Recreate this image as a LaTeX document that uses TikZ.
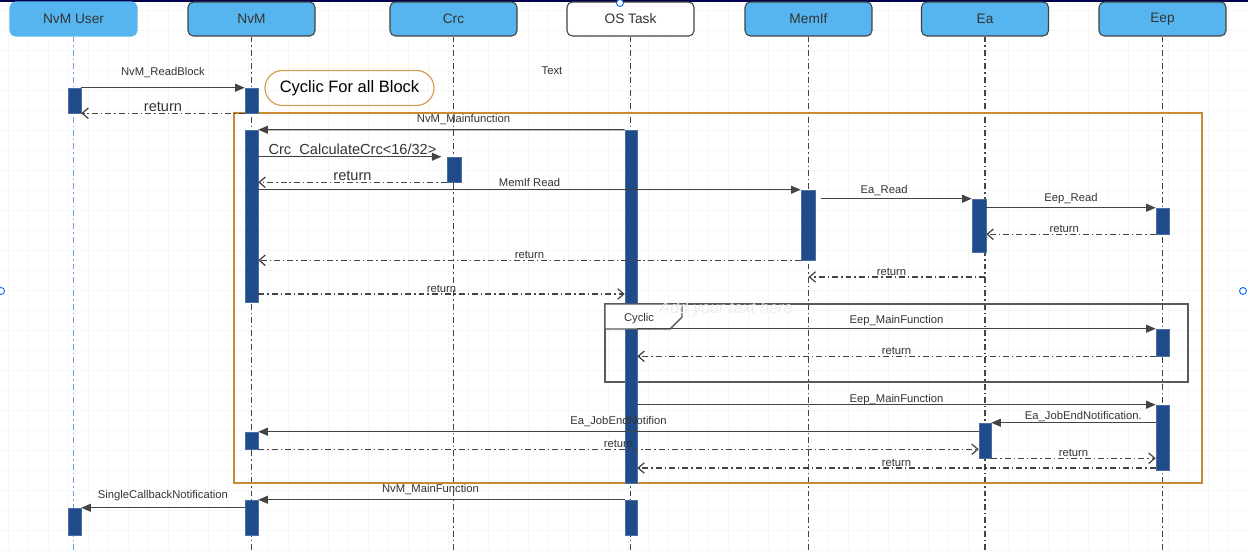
\documentclass[tikz,border=0pt]{standalone}
\usepackage{fontspec}
\setmainfont{Liberation Sans}
\usetikzlibrary{arrows.meta,fit}
\definecolor{hdrblue}{HTML}{56B5EF}
\definecolor{barblue}{HTML}{1F4B8A}
\definecolor{frameorange}{HTML}{C98A35}
\definecolor{boxorange}{HTML}{D99E55}
\definecolor{linegray}{HTML}{444444}
\definecolor{userblue}{HTML}{6E9FE0}
\definecolor{gridgray}{HTML}{F6F6F6}

\begin{document}
\begin{tikzpicture}[x=0.02cm,y=-0.02cm,
  hdr/.style={draw=black!75,line width=0.6pt,fill=hdrblue,rounded corners=3pt,minimum width=2.54cm,minimum height=0.68cm,text=black!80,font=\fontsize{7.8}{9}\selectfont},
  bar/.style={fill=barblue,draw=barblue!80,line width=0.3pt,inner sep=0pt},
  life/.style={linegray,line width=0.8pt,dash pattern=on 3.4pt off 1.7pt on 0.8pt off 1.7pt},
  call/.style={draw=linegray,line width=0.8pt,-{Triangle[length=5.5pt,width=4.5pt]}},
  ret/.style={draw=linegray,line width=0.7pt,dash pattern=on 3.4pt off 1.7pt on 0.8pt off 1.7pt,-{Straight Barb[length=3.5pt,width=6pt]}},
  lbl/.style={text=black!80,font=\fontsize{6.4}{7}\selectfont,inner sep=1pt,text depth=0pt},
  bigtxt/.style={font=\fontsize{8.3}{9}\selectfont},
  handle/.style={circle,draw=blue!60!cyan,fill=white,line width=0.5pt,minimum size=0.14cm,inner sep=0pt}]
\useasboundingbox (0,0) rectangle (1248,551);
\foreach \gx in {8,28,...,1248} \draw[gridgray,line width=0.3pt] (\gx,0) -- (\gx,551);
\foreach \gy in {10,30,...,550} \draw[gridgray,line width=0.3pt] (0,\gy) -- (1248,\gy);
\draw[black!70!blue,line width=1.2pt] (0,0.5) -- (1248,0.5);

\node[hdr,draw=hdrblue] (user) at (73.5,19) {NvM User};
\node[hdr] (nvm) at (251.5,19) {NvM};
\node[hdr] (crc) at (453.5,19) {Crc};
\node[hdr,fill=white] (os) at (630.5,19) {OS Task};
\node[hdr] (mem) at (808.5,19) {MemIf};
\node[hdr] (ea) at (985,19) {Ea};
\node[hdr] (eep) at (1162.5,19) {Eep};

\draw[life,userblue] (user.south) -- (user.south |- 0,551);
\foreach \n in {nvm,crc,os,mem,ea,eep} \draw[life] (\n.south) -- (\n.south |- 0,551);

\node[handle] (h1) at (620,3) {};
\node[handle] (h2) at (1,291) {};
\node[handle] (h3) at (1243,291) {};

\node[lbl] (txt) at (552,71) {Text};
\node[draw=boxorange,line width=0.7pt,rounded corners=0.35cm,minimum width=3.38cm,minimum height=0.7cm,inner sep=0pt,font=\fontsize{9.4}{11}\selectfont] (loop) at (349.5,88) {Cyclic For all Block};
\draw[frameorange,line width=0.7pt] (234,113) rectangle (1202,483);

\draw[black!65,line width=0.8pt] (605,304) rectangle (1188,382);

\node[bar,fit={(68,88) (81,113)}] (userA) {};
\node[bar,fit={(245,88) (258,113)}] (nvmA) {};
\node[bar,fit={(245,130) (258,302)}] (nvmB) {};
\node[bar,fit={(447,157) (461,182)}] (crcA) {};
\node[bar,fit={(625,130) (637,483)}] (osA) {};
\node[bar,fit={(801,190) (815,260)}] (memA) {};
\node[bar,fit={(972,199) (986,252)}] (eaA) {};
\node[bar,fit={(1156,208) (1169,234)}] (eepA) {};
\node[bar,fit={(1156,329) (1169,356)}] (eepB) {};
\node[bar,fit={(1156,405) (1169,470)}] (eepC) {};
\node[bar,fit={(979,423) (991,458)}] (eaB) {};
\node[bar,fit={(245,432) (258,449)}] (nvmC) {};
\node[bar,fit={(625,500) (637,535)}] (osB) {};
\node[bar,fit={(245,500) (258,535)}] (nvmD) {};
\node[bar,fit={(68,508) (81,535)}] (userB) {};

\draw[black!65,line width=0.8pt,fill=white] (605,304) -- (605,329) -- (670,329) -- (682,317) -- (682,304) -- cycle;
\node[lbl] (cyc) at (639,317) {Cyclic};
\node[font=\fontsize{9.3}{11}\selectfont\itshape,text=black!7] (hint) at (726,309) {Add your text here};

\draw[call] (userA.north east) -- node[lbl,above=5.8pt] (m1) {NvM\_ReadBlock} (nvmA.north west);
\draw[ret] (nvmA.south west) -- node[lbl,bigtxt,above=-0.5pt] (m2) {return} (userA.south east);
\draw[call] (osA.north west) -- node[lbl,pos=0.44,above=3pt] (m3) {NvM\_Mainfunction} (nvmB.north east);
\draw[call,shorten >=3pt] (nvmB.east |- crcA.north) -- node[lbl,bigtxt,above=0pt] (m4) {Crc\_CalculateCrc<16/32>} (crcA.north west);
\draw[ret] (crcA.south west) -- node[lbl,bigtxt,above=-0.5pt] (m5) {return} (nvmB.east |- crcA.south);
\draw[call] (nvmB.east |- memA.north) -- node[lbl,fill=white,above=0.7pt] (m6) {MemIf Read} (memA.north west);
\draw[call,shorten <=3pt] (memA.east |- eaA.north) -- node[lbl,pos=0.44,above=1.3pt] (m7) {Ea\_Read} (eaA.north west);
\draw[call] (eaA.east |- eepA.north) -- node[lbl,above=2.4pt] (m8) {Eep\_Read} (eepA.north west);
\draw[ret] (eepA.south west) -- node[lbl,pos=0.54,above=-0.5pt] (m9) {return} (eaA.east |- eepA.south);
\draw[ret] (ea |- 0,277) -- node[lbl,pos=0.53,above=-0.5pt] (m10) {return} (mem |- 0,277);
\draw[ret] (memA.south west) -- node[lbl,above=-0.5pt] (m11) {return} (nvmB.east |- memA.south);
\draw[ret] (nvmB.east |- 0,294) -- node[lbl,above=-0.5pt] (m12) {return} (osA.west |- 0,294);
\draw[call] (osA.east |- eepB.north) -- node[lbl,above=1.8pt] (m13) {Eep\_MainFunction} (eepB.north west);
\draw[ret] (eepB.south west) -- node[lbl,above=-0.5pt] (m14) {return} (osA.east |- eepB.south);
\draw[call] (osA.east |- eepC.north) -- node[lbl,above=0pt] (m15) {Eep\_MainFunction} (eepC.north west);
\draw[call] (eepC.west |- eaB.north) -- node[lbl,pos=0.44,above=0.7pt] (m16) {Ea\_JobEndNotification.} (eaB.north east);
\draw[call] (eaB.west |- nvmC.north) -- node[lbl,above=3pt] (m17) {Ea\_JobEndNotifion} (nvmC.north east);
\draw[ret] (nvmC.south east) -- node[lbl,above=-0.5pt] (m18) {return} (eaB.west |- nvmC.south);
\draw[ret] (eaB.south east) -- node[lbl,above=-0.5pt] (m19) {return} (eepC.west |- eaB.south);
\draw[ret] (eepC.west |- 0,468) -- node[lbl,above=-0.5pt] (m20) {return} (osA.east |- 0,468);
\draw[call] (osB.north west) -- node[lbl,pos=0.53,above=3pt] (m21) {NvM\_MainFunction} (nvmD.north east);
\draw[call] (nvmD.west |- userB.north) -- node[lbl,above=4pt] (m22) {SingleCallbackNotification} (userB.north east);
\end{tikzpicture}
\end{document}
